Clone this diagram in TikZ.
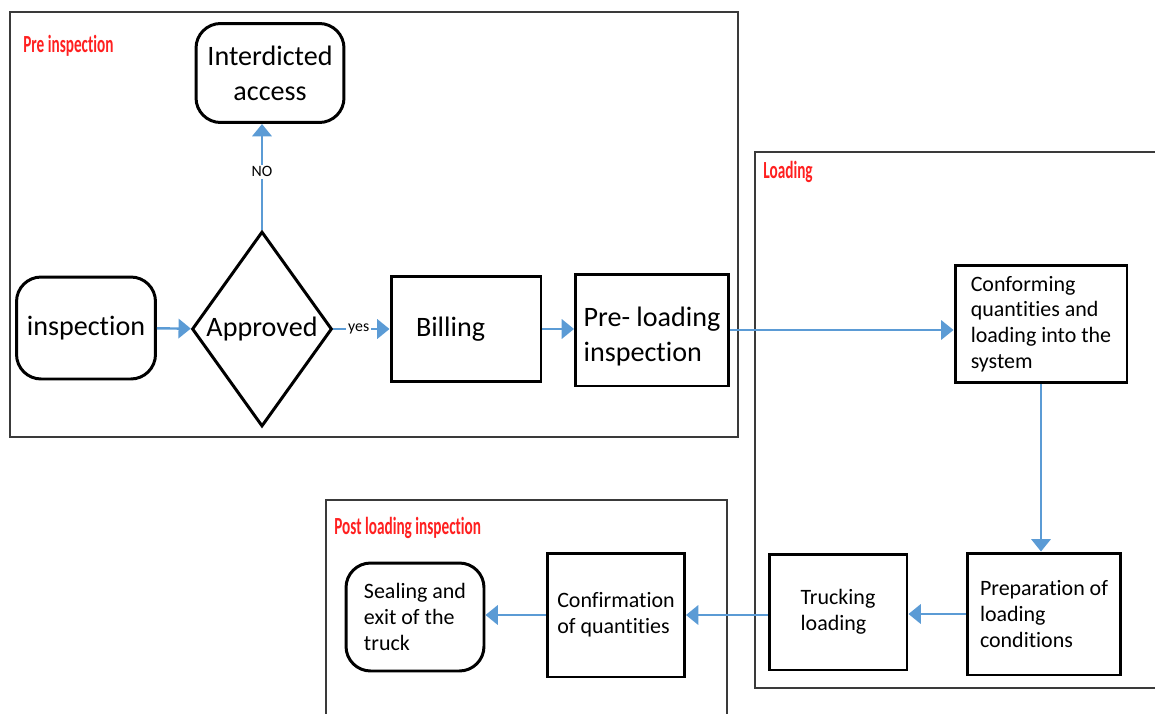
\documentclass[tikz,border=0pt]{standalone}
\usepackage{fontspec}
\setmainfont{Carlito}[Ligatures=NoCommon]
\usepackage{xcolor}
\usepackage{tikz}
\usetikzlibrary{positioning,shapes.geometric,arrows.meta}

\definecolor{flowblue}{HTML}{5B9BD5}
\definecolor{framegray}{HTML}{3A3A3A}
\definecolor{headred}{HTML}{FF2020}

\tikzset{
	box/.style={draw, line width=1.7pt, align=left, inner sep=0pt},
	roundbox/.style={box, rounded corners=14pt},
	flow/.style={draw=flowblue, line width=1.4pt, -{Triangle[length=7pt,width=11pt]}},
	frame/.style={draw=framegray, line width=1.4pt},
	header/.style={text=headred, font=\fontsize{14}{16}\selectfont\bfseries, inner sep=0pt, anchor=west},
	big/.style={font=\fontsize{16}{20}\selectfont},
	small/.style={font=\fontsize{12.5}{14.7}\selectfont},
	tag/.style={font=\fontsize{9}{10}\selectfont, fill=white, inner sep=1pt}
}

\begin{document}
\begin{tikzpicture}[x=0.02cm, y=-0.02cm]
	\useasboundingbox (0,0) rectangle (1155,713);

	\draw[frame] (10,12) rectangle (738,437);
	\draw[frame] (1160,152) -- (755,152) -- (755,688) -- (1160,688);
	\draw[frame] (326,720) -- (326,500) -- (727,500) -- (727,720);

	\node[header] (preTitle) at (23,46) {\scalebox{0.62}[1]{Pre inspection}};
	\node[header] (loadTitle) at (763,172) {\scalebox{0.62}[1]{Loading}};
	\node[header] (postTitle) at (334,528) {\scalebox{0.62}[1]{Post loading inspection}};

	\node[roundbox, big, align=center, minimum width=2.96cm, minimum height=1.98cm] (interdicted) at (270,73) {Interdicted\\access};
	\node[roundbox, big, minimum width=2.78cm, minimum height=2.04cm] (insp) at (86,328) {inspection};
	\node[draw, diamond, aspect=0.72, line width=1.7pt, inner sep=0pt, minimum width=2.8cm, minimum height=3.9cm, big] (approved) at (262,329) {Approved};
	\node[box, big, text width=2cm, minimum width=3cm, minimum height=2.1cm] (billing) at (466,329) {Billing};
	\node[box, big, minimum width=3.06cm, minimum height=2.24cm, text height=1.35cm] (preload) at (652,330) {Pre- loading\\inspection};

	\node[box, small, minimum width=3.44cm, minimum height=2.36cm] (conform) at (1041,324) {Conforming\\quantities and\\loading into the\\system};
	\node[box, small, minimum width=3.06cm, minimum height=2.44cm] (prep) at (1044,614) {Preparation of\\loading\\conditions};
	\node[box, small, minimum width=2.76cm, minimum height=2.32cm] (truck) at (838,612) {Trucking\\loading};

	\node[box, small, minimum width=2.74cm, minimum height=2.48cm] (confirm) at (616,615) {Confirmation\\of quantities};
	\node[roundbox, small, minimum width=2.76cm, minimum height=2.16cm] (sealing) at (415,617) {Sealing and\\exit of the\\truck};

	\draw[flow] (insp) -- (approved);
	\draw[flow] (approved) -- node[tag, pos=0.45] {yes} (billing);
	\draw[flow] (approved.north) -- node[tag, pos=0.55] {NO} (approved.north |- interdicted.south);
	\draw[flow] (billing.east) -- (billing.east -| preload.west);
	\draw[flow, line width=1pt] (preload.east) -- (preload.east -| conform.west);
	\draw[flow, line width=1pt] (conform.south) -- (conform.south |- prep.north);
	\draw[flow] (prep.west) -- (prep.west -| truck.east);
	\draw[flow] (truck.west |- confirm) -- (confirm);
	\draw[flow] (confirm) -- (confirm -| sealing.east);
\end{tikzpicture}
\end{document}
